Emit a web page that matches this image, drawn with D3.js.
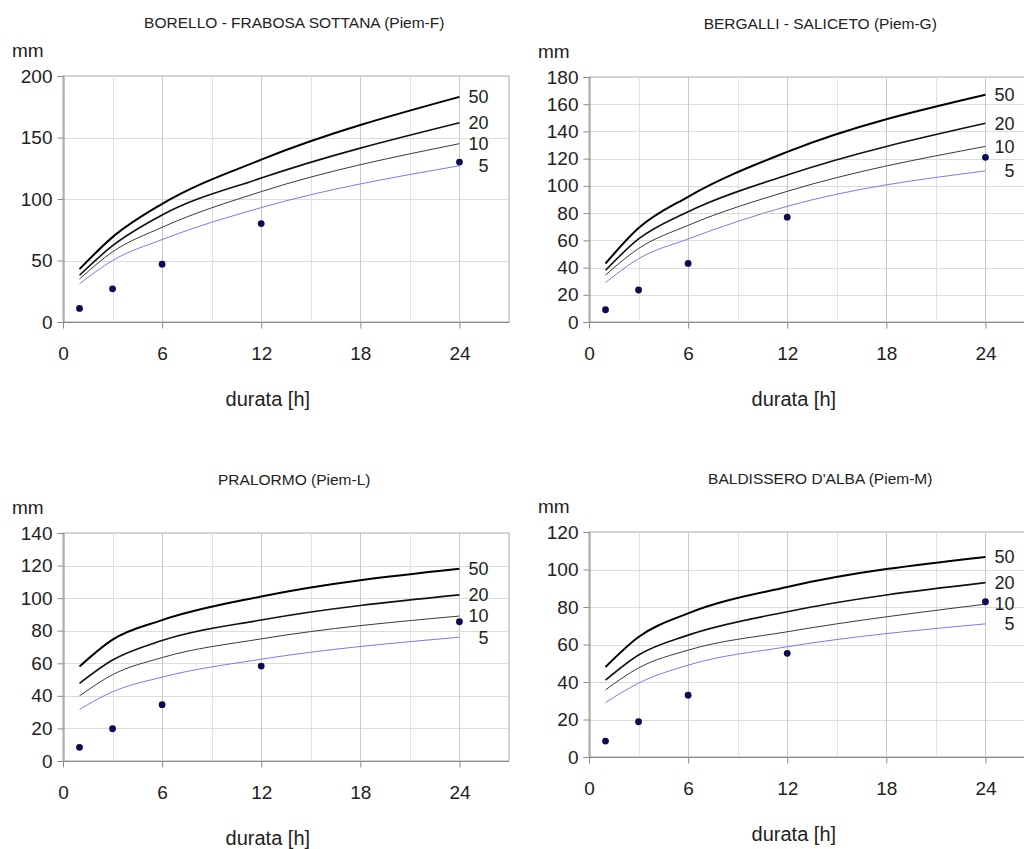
<!DOCTYPE html>
<html>
<head>
<meta charset="utf-8">
<script src="https://cdn.jsdelivr.net/npm/d3@7"></script>
<style>
  html, body { margin: 0; padding: 0; background: #fff; }
  svg { display: block; font-family: Arial, "Liberation Sans", sans-serif; }
</style>
</head>
<body>
<svg id="chart" width="1024" height="849"></svg>
<script>
// durations (h) at which the curves and the observed maxima are given
const durations = [1, 3, 6, 12, 24];
const returnPeriods = [50, 20, 10, 5];
const xTicks = [0, 6, 12, 18, 24];

// curves in returnPeriods order: 50, 20, 10, 5 years
const borelloCurves = [
  [43, 69, 96, 132, 183],
  [38, 62, 87, 117, 162],
  [35, 57, 77, 106, 145],
  [31, 50, 67, 93, 127],
];
const borelloObs = [11, 27, 47, 80, 130];
const borelloTicks = [0, 50, 100, 150, 200];

const bergalliCurves = [
  [43, 69, 92, 125, 167],
  [38, 61, 81, 108, 146],
  [34.5, 54, 71, 96, 129],
  [29, 46.5, 61, 85, 111],
];
const bergalliObs = [9, 23.5, 43, 77, 121];
const bergalliTicks = [0, 20, 40, 60, 80, 100, 120, 140, 160, 180];

const pralormoCurves = [
  [58, 74.5, 86.5, 101, 118],
  [47.7, 62, 74, 86.6, 102],
  [40, 53, 63.5, 75, 89],
  [31.7, 42.5, 51.5, 62.5, 76],
];
const pralormoObs = [8.4, 19.8, 34.6, 58.3, 85.5];
const pralormoTicks = [0, 20, 40, 60, 80, 100, 120, 140];

const baldisseroCurves = [
  [48, 64, 76.6, 90.7, 106.7],
  [41, 54.4, 65, 77.5, 93],
  [35.8, 47.5, 57, 66.8, 81.5],
  [29, 39.4, 49, 58.8, 71],
];
const baldisseroObs = [8.5, 18.8, 33, 55.3, 82.8];
const baldisseroTicks = [0, 20, 40, 60, 80, 100, 120];

// panel layout (positions only)
const panels = [
  { title: 'BORELLO - FRABOSA SOTTANA (Piem-F)', curves: borelloCurves, obs: borelloObs, ticks: borelloTicks,
    left: 63, top: 76, bottom: 322 },
  { title: 'BERGALLI - SALICETO (Piem-G)', curves: bergalliCurves, obs: bergalliObs, ticks: bergalliTicks,
    left: 589, top: 77, bottom: 322 },
  { title: 'PRALORMO (Piem-L)', curves: pralormoCurves, obs: pralormoObs, ticks: pralormoTicks,
    left: 63, top: 533, bottom: 761 },
  { title: "BALDISSERO D'ALBA (Piem-M)", curves: baldisseroCurves, obs: baldisseroObs, ticks: baldisseroTicks,
    left: 589, top: 532, bottom: 757 },
];

const lineStyle = {
  50: { stroke: '#000', width: 2 },
  20: { stroke: '#111', width: 1.6 },
  10: { stroke: '#3a3a3a', width: 1 },
  5:  { stroke: '#7a7aee', width: 1 },
};

const svg = d3.select('#chart');
const textCol = '#222';

panels.forEach((p) => {
  const yMax = p.ticks[p.ticks.length - 1];
  const x = d3.scaleLinear().domain([0, 27]).range([p.left, p.left + 446]);
  const y = d3.scaleLinear().domain([0, yMax]).range([p.bottom, p.top]);
  const g = svg.append('g');

  // plot frame + grid
  g.append('rect')
    .attr('x', x(0)).attr('y', y(yMax))
    .attr('width', x(27) - x(0)).attr('height', y(0) - y(yMax))
    .attr('fill', '#fff').attr('stroke', '#a8a8a8').attr('stroke-width', 1);

  g.selectAll('.hgrid').data(p.ticks.slice(1, -1)).enter().append('line')
    .attr('x1', x(0)).attr('x2', x(27))
    .attr('y1', (d) => Math.round(y(d)) + 0.5).attr('y2', (d) => Math.round(y(d)) + 0.5)
    .attr('stroke', '#dcdcdc');

  g.selectAll('.vgrid').data(d3.range(3, 27, 3)).enter().append('line')
    .attr('x1', (d) => Math.round(x(d)) + 0.5).attr('x2', (d) => Math.round(x(d)) + 0.5)
    .attr('y1', y(0)).attr('y2', y(yMax))
    .attr('stroke', (d) => (d % 6 === 0 ? '#c8c8c8' : '#e2e2e2'));

  // axes
  const yAxis = d3.axisLeft(y).tickValues(p.ticks).tickSize(6).tickPadding(5);
  const ya = g.append('g').attr('transform', `translate(${Math.round(x(0)) + 0.5},0)`).call(yAxis);
  const xAxis = d3.axisBottom(x).tickValues(xTicks).tickSize(6).tickPadding(18);
  const xa = g.append('g').attr('transform', `translate(0,${Math.round(y(0)) + 0.5})`).call(xAxis);
  [ya, xa].forEach((a) => {
    a.select('.domain').attr('stroke', '#8a8a8a');
    a.selectAll('.tick line').attr('stroke', '#8a8a8a');
    a.selectAll('.tick text').attr('fill', textCol).style('font-size', '19px');
  });
  xa.select('.domain').attr('d', `M${x(0)},0H${x(27)}`);

  // curves
  const line = d3.line()
    .x((d, i) => x(durations[i]))
    .y((d) => y(d))
    .curve(d3.curveMonotoneX);

  p.curves.forEach((vals, k) => {
    const rp = returnPeriods[k];
    const st = lineStyle[rp];
    g.append('path').datum(vals)
      .attr('d', line)
      .attr('fill', 'none')
      .attr('stroke', st.stroke)
      .attr('stroke-width', st.width);
    g.append('text')
      .attr('x', x(24) + 29)
      .attr('y', y(vals[vals.length - 1]))
      .attr('dy', '0.35em')
      .attr('text-anchor', 'end')
      .attr('fill', textCol)
      .style('font-size', '18px')
      .text(rp);
  });

  // observed maxima
  g.selectAll('.obs').data(p.obs).enter().append('circle')
    .attr('cx', (d, i) => x(durations[i]))
    .attr('cy', (d) => y(d))
    .attr('r', 3.4)
    .attr('fill', '#0a0a50');

  // labels
  g.append('text')
    .attr('x', x(14)).attr('y', p.top - 48)
    .attr('text-anchor', 'middle')
    .attr('fill', textCol)
    .style('font-size', '15.5px')
    .text(p.title);

  g.append('text')
    .attr('x', p.left - 51).attr('y', p.top - 19)
    .attr('fill', textCol)
    .style('font-size', '19px')
    .text('mm');

  g.append('text')
    .attr('x', x(12.4)).attr('y', p.bottom + 84)
    .attr('text-anchor', 'middle')
    .attr('fill', textCol)
    .style('font-size', '20px')
    .text('durata [h]');
});
</script>
</body>
</html>
